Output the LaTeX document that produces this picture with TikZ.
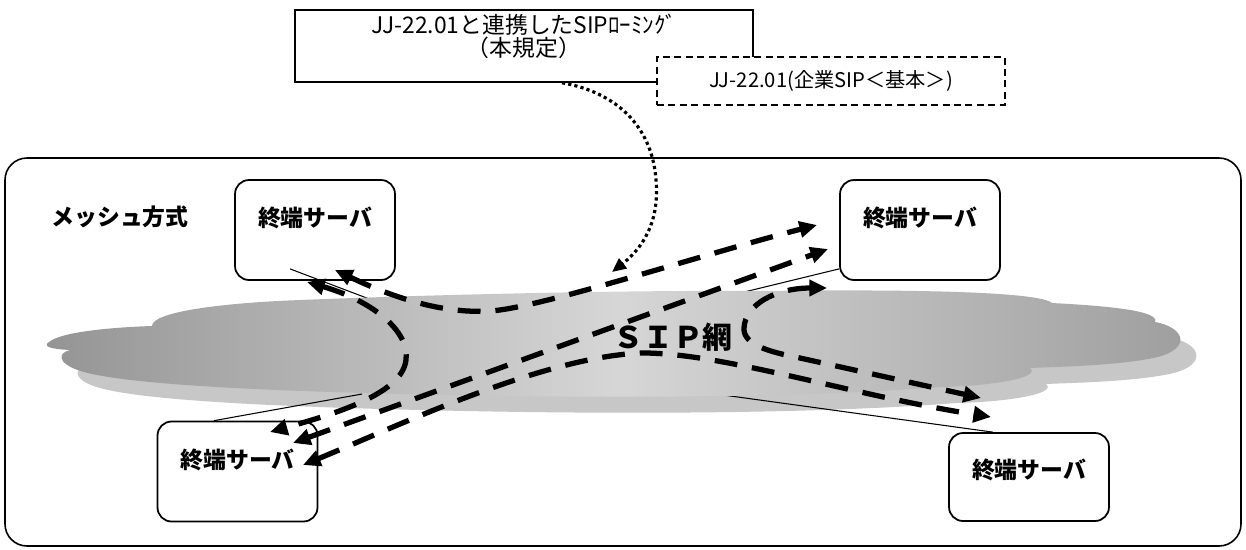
\documentclass[tikz,border=0pt]{standalone}
\usepackage{fontspec}
\setmainfont{Noto Sans CJK JP}
\usetikzlibrary{arrows.meta}

\begin{document}
\begin{tikzpicture}[
        x=0.02cm, y=-0.02cm,
        srv/.style={rectangle, rounded corners=0.28cm, draw=black, line width=1pt, fill=white, minimum width=3.2cm, minimum height=2cm, font=\fontsize{13}{15}\selectfont\bfseries, text height=11pt, text depth=14.6pt},
        link/.style={line width=0.6pt},
        sip/.style={line width=3pt, dash pattern=on 13pt off 8.5pt, >={Triangle[length=10pt,width=9pt]}, <->},
        ref/.style={line width=1.8pt, dash pattern=on 1.8pt off 1.8pt, -{Triangle[length=8pt,width=7pt]}},
        cloudshape/.style={insert path={(49,342)
            .. controls (62,331) and (120,327) .. (152,326)
            .. controls (152,312) and (220,303) .. (300,300)
            .. controls (400,296) and (600,290) .. (760,291)
            .. controls (920,289) and (1040,292) .. (1052,303)
            .. controls (1110,306) and (1160,311) .. (1155,322)
            .. controls (1188,328) and (1192,352) .. (1148,359)
            .. controls (1110,366) and (1050,367) .. (1030,368)
            .. controls (1042,378) and (990,386) .. (940,387)
            .. controls (800,398) and (600,398) .. (450,395)
            .. controls (300,392) and (115,386) .. (75,369)
            .. controls (58,362) and (58,353) .. (70,350)
            .. controls (52,349) and (42,347) .. (49,342) -- cycle}},
        font=\fontsize{12}{13}\selectfont
    ]
    \useasboundingbox (0,0) rectangle (1246,549);

    % 枠
    \draw[rounded corners=0.44cm, line width=0.9pt, fill=white] (5,158) rectangle (1241,546);
    \node[font=\fontsize{13}{15}\selectfont\bfseries] (mesh) at (120,217) {メッシュ方式};

    % 雲の影
    \fill[black!22, shift={(16,16)}, cloudshape];

    % 終端サーバ
    \node[srv] (s1) at (315,230) {終端サーバ};
    \node[srv] (s2) at (920,230) {終端サーバ};
    \node[srv] (s3) at (237.5,471.5) {終端サーバ};
    \node[srv, minimum height=1.76cm, text depth=9pt] (s4) at (1029,477) {終端サーバ};

    % 雲との接続線
    \coordinate (c1) at (372,300);
    \coordinate (c2) at (736,294);
    \coordinate (c3) at (362,394);
    \coordinate (c4) at (716,394);
    \draw[link] ([xshift=-0.5cm,yshift=0.24cm]s1.south) -- (c1);
    \draw[link] ([yshift=0.24cm]s2.south west) -- (c2);
    \draw[link] ([xshift=-0.47cm]s3.north) -- (c3);
    \draw[link] ([xshift=-0.72cm]s4.north) -- (c4);

    % SIP網
    \shade[left color=black!42, right color=black!38, middle color=black!16, cloudshape];
    \node[font=\fontsize{17}{19}\selectfont\bfseries] (net) at (673,337) {ＳＩＰ網};

    % 矢印の端
    \coordinate (s1a) at (335,270);
    \coordinate (s1b) at (307,282);
    \coordinate (s2a) at (817,225);
    \coordinate (s2b) at (828,249);
    \coordinate (s2c) at (827,288);
    \coordinate (s3a) at (270,432);
    \coordinate (s3b) at (293,443);
    \coordinate (s3c) at (303,465);
    \coordinate (s4a) at (981,398);
    \coordinate (s4b) at (991,417);

    % メッシュ接続
    \draw[sip] (s1a) .. controls (390,296) and (440,314) .. (490,311) .. controls (540,308) and (700,255) .. (s2a);
    \draw[sip] (s1b) .. controls (370,300) and (410,330) .. (406,360) .. controls (402,395) and (330,415) .. (s3a);
    \draw[sip] (s3b) -- (s2b);
    \draw[sip] (s3c) .. controls (400,425) and (540,358) .. (640,353) .. controls (720,352) and (850,395) .. (s4b);
    \draw[sip] (s2c) .. controls (775,288) and (745,305) .. (744,328) .. controls (743,345) and (770,352) .. (800,358) -- (s4a);

    % 規定
    \node[draw, line width=0.9pt, fill=white, minimum width=9.16cm, minimum height=1.44cm,
          label={[align=center, yshift=0.2cm, font=\fontsize{13}{13}\selectfont]center:JJ-22.01と連携したSIPﾛｰﾐﾝｸﾞ\\（本規定）}] (rule) at (524,46) {};
    \node[draw, dash pattern=on 4pt off 2.5pt, line width=0.8pt, fill=white, minimum width=6.96cm, minimum height=0.96cm,
          font=\fontsize{11.5}{13}\selectfont] (base) at (831,81) {JJ-22.01(企業SIP＜基本＞)};

    \coordinate (dotend) at (612,272);
    \draw[ref] ([xshift=0.76cm]rule.south) .. controls (615,92) and (652,125) .. (656,180) .. controls (660,225) and (640,250) .. (dotend);

\end{tikzpicture}
\end{document}
